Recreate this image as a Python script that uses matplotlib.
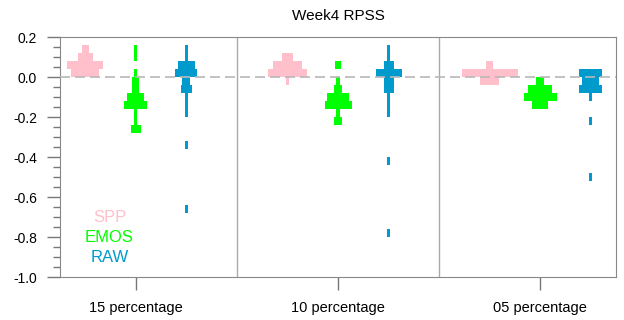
import matplotlib
matplotlib.use("Agg")
import matplotlib.pyplot as plt

plt.rcParams['font.family'] = ['Liberation Sans', 'DejaVu Sans']

# categories
groups = ["15 percentage", "10 percentage", "05 percentage"]
models = ["SPP", "EMOS", "RAW"]
colors = ["#ffc0cb", "#00ff00", "#009acd"]

# histogram bins (lower edge, bin size 0.04) and counts, one list per group
spp_lo = [[0.12, 0.08, 0.04, 0.00],
          [0.08, 0.04, 0.00, -0.04],
          [0.04, 0.00, -0.04]]
spp_n = [[2, 4.5, 11, 8.5],
         [3.3, 9, 12, 1],
         [2.3, 17, 5.8]]

emos_lo = [[0.12, 0.08, 0.00, -0.04, -0.08, -0.12, -0.16, -0.20, -0.24, -0.28],
           [0.04, -0.04, -0.08, -0.12, -0.16, -0.20, -0.24],
           [-0.04, -0.08, -0.12, -0.16]]
emos_n = [[1, 1, 1, 2.2, 2.2, 5.2, 7, 1, 1, 3],
          [2, 1, 2.7, 6.7, 8.2, 1, 2.6],
          [2.6, 7.3, 10, 5]]

raw_lo = [[0.12, 0.08, 0.04, 0.00, -0.04, -0.08, -0.12, -0.16, -0.20, -0.36, -0.68],
          [0.12, 0.08, 0.04, 0.00, -0.04, -0.08, -0.12, -0.16, -0.20, -0.44, -0.80],
          [0.00, -0.04, -0.08, -0.12, -0.24, -0.52]]
raw_n = [[1, 1, 5, 6.7, 2.4, 3.2, 1, 1, 1, 1, 1],
         [1, 1, 3, 7.9, 3, 3, 1, 1, 1, 1, 1],
         [7, 5.3, 7, 1, 1, 1]]

binsize = 0.04
unit = 0.0163          # x-width of one count
offsets = [-0.25, 0.0, 0.25]

fig = plt.figure(figsize=(6.24, 3.2), dpi=100)
ax = fig.add_axes([0.0962, 0.134, 0.891, 0.75])

all_lo = [spp_lo, emos_lo, raw_lo]
all_n = [spp_n, emos_n, raw_n]
for m in range(3):
    for g in range(3):
        xc = g + 1 + offsets[m]
        w = [c * unit for c in all_n[m][g]]
        ax.barh(all_lo[m][g], w, left=[xc - v / 2 for v in w], height=binsize,
                align='edge', color=colors[m], linewidth=0, zorder=3)

ax.axhline(0, color='#b8b8b8', lw=1.2, dashes=(6, 3), zorder=4)
for xs in [1.5, 2.5]:
    ax.axvline(xs, color='#aaaaaa', lw=1, zorder=1)

ax.set_xlim(0.625, 3.375)
ax.set_ylim(-1.0, 0.2)
ax.set_xticks([1, 2, 3])
ax.set_xticklabels(groups, fontsize=10.5)
ax.set_yticks([0.2, 0.0, -0.2, -0.4, -0.6, -0.8, -1.0])
ax.set_yticklabels(["0.2", "0.0", "-0.2", "-0.4", "-0.6", "-0.8", "-1.0"], fontsize=10)
ax.set_yticks([0.15, 0.1, 0.05, -0.05, -0.1, -0.15, -0.25, -0.3, -0.35, -0.45, -0.5,
               -0.55, -0.65, -0.7, -0.75, -0.85, -0.9, -0.95], minor=True)
ax.tick_params(axis='y', which='major', direction='out', length=9.5, width=1,
               color='#777777', pad=7)
ax.tick_params(axis='x', which='major', direction='out', length=9.5, width=1,
               color='#777777', pad=8)
ax.tick_params(axis='y', which='minor', direction='out', length=5, width=1, color='#777777')
for s in ax.spines.values():
    s.set_color('#888888')

ax.set_title("Week4 RPSS", fontsize=11, pad=12)

for i, name in enumerate(models):
    ax.text(0.87, -0.70 - 0.10 * i, name, color=colors[i], fontsize=12,
            ha='center', va='center')

fig.savefig("out.png", dpi=100)
